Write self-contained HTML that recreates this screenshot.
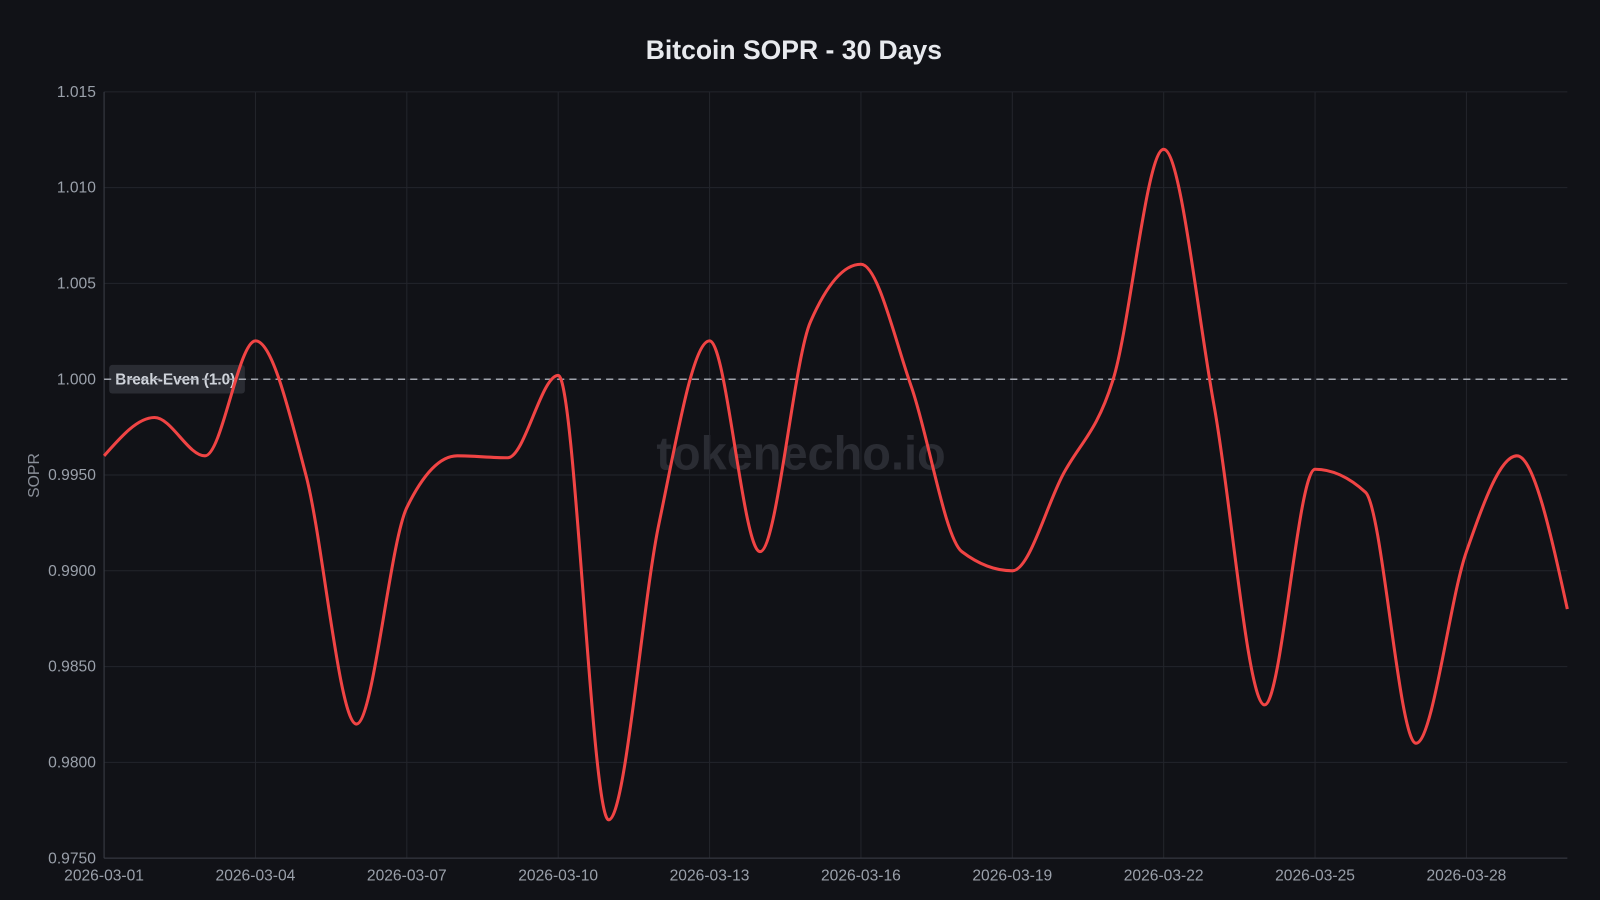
<!DOCTYPE html>
<html><head><meta charset="utf-8"><style>
html,body{margin:0;padding:0;background:#111217;}
svg{display:block;font-family:"Liberation Sans",sans-serif;}
</style></head><body>
<svg id="chart" width="1600" height="900" viewBox="0 0 1600 900">
<rect width="1600" height="900" fill="#111217"/>
<g transform="scale(1.0204)">
<text x="778" y="58" text-anchor="middle" fill="#e8eaee" font-size="26" font-weight="bold">Bitcoin SOPR - 30 Days</text>
<text x="785" y="460" text-anchor="middle" fill="#2a2c33" font-size="46" font-weight="bold">tokenecho.io</text>
<text transform="translate(38,466) rotate(-90)" text-anchor="middle" fill="#8a8f99" font-size="15.5">SOPR</text>
<g id="grid"></g><g id="ticks"></g><g id="marks"></g>
</g>
</svg>
<script>
const dates=["2026-03-01","2026-03-02","2026-03-03","2026-03-04","2026-03-05","2026-03-06","2026-03-07","2026-03-08","2026-03-09","2026-03-10","2026-03-11","2026-03-12","2026-03-13","2026-03-14","2026-03-15","2026-03-16","2026-03-17","2026-03-18","2026-03-19","2026-03-20","2026-03-21","2026-03-22","2026-03-23","2026-03-24","2026-03-25","2026-03-26","2026-03-27","2026-03-28","2026-03-29","2026-03-30"];
const sopr=[0.996,0.998,0.996,1.002,0.995,0.982,0.9933,0.996,0.9959,1.0002,0.977,0.9925,1.002,0.991,1.003,1.006,0.9996,0.991,0.990,0.995,1.000,1.012,0.9986,0.983,0.9953,0.9941,0.981,0.991,0.996,0.988];
const yTicks=[0.975,0.98,0.985,0.99,0.995,1.0,1.005,1.01,1.015];
const yTickLabels=["0.9750","0.9800","0.9850","0.9900","0.9950","1.000","1.005","1.010","1.015"];
const breakEven=1.0;
const NS="http://www.w3.org/2000/svg";
const X0=102,X1=1536,Y0=841,Y1=90,YMIN=0.975,YMAX=1.015;
const xs=i=>X0+(X1-X0)*i/(dates.length-1);
const ys=v=>Y0-(v-YMIN)/(YMAX-YMIN)*(Y0-Y1);
function mk(tag,attrs,parent){const e=document.createElementNS(NS,tag);for(const k in attrs)e.setAttribute(k,attrs[k]);parent.appendChild(e);return e;}
const grid=document.getElementById('grid'),ticks=document.getElementById('ticks'),marks=document.getElementById('marks');
yTicks.forEach((t,i)=>{
  const l=mk('line',{x1:X0,x2:X1,y1:ys(t),y2:ys(t),stroke:'#23252c','stroke-width':1},grid);
  
  
  const tx=mk('text',{x:94,y:ys(t)+5,'text-anchor':'end',fill:'#9aa0aa','font-size':15.3},ticks);
  tx.textContent=yTickLabels[i];
  
  
});
for(let i=0;i<dates.length;i+=3){
  const l=mk('line',{x1:xs(i),x2:xs(i),y1:Y1,y2:Y0,stroke:'#23252c','stroke-width':1},grid);
  
  
  const tx=mk('text',{x:xs(i),y:863,'text-anchor':'middle',fill:'#9aa0aa','font-size':15.3},ticks);
  tx.textContent=dates[i];
  
  
}
const ax=mk('line',{x1:X0,x2:X0,y1:Y1,y2:Y0,stroke:'#3a3d45'},grid);


const ax2=mk('line',{x1:X0,x2:X1,y1:Y0,y2:Y0,stroke:'#3a3d45'},grid);


const lb=mk('rect',{x:107,y:ys(breakEven)-14,width:133,height:28,rx:3,fill:'#2a2c33'},marks);


const lt=mk('text',{x:113,y:ys(breakEven)+5,fill:'#d0d4db','font-size':15,'font-weight':'bold'},marks);
lt.textContent='Break-Even (1.0)';


const bl=mk('line',{x1:X0,x2:X1,y1:ys(breakEven),y2:ys(breakEven),stroke:'#a0a4ad','stroke-width':1.5,'stroke-dasharray':'7 5'},marks);


const px=sopr.map((v,i)=>xs(i)),py=sopr.map(v=>ys(v));
const n=px.length,m=new Array(n),d=[];
for(let i=0;i<n-1;i++)d.push((py[i+1]-py[i])/(px[i+1]-px[i]));
for(let i=1;i<n-1;i++){const h0=px[i]-px[i-1],h1=px[i+1]-px[i];const p=(d[i-1]*h1+d[i]*h0)/(h0+h1);m[i]=(Math.sign(d[i-1])+Math.sign(d[i]))*Math.min(Math.abs(d[i-1]),Math.abs(d[i]),0.5*Math.abs(p))||0;}
m[0]=(3*d[0]-m[1])/2;m[n-1]=(3*d[n-2]-m[n-2])/2;
let path=`M${px[0]},${py[0]}`;
for(let i=0;i<n-1;i++){const h=(px[i+1]-px[i])/3;path+=`C${px[i]+h},${py[i]+h*m[i]} ${px[i+1]-h},${py[i+1]-h*m[i+1]} ${px[i+1]},${py[i+1]}`;}
const ln=mk('path',{d:path,fill:'none',stroke:'#f04444','stroke-width':3,'stroke-linejoin':'round'},marks);


</script>
</body></html>
